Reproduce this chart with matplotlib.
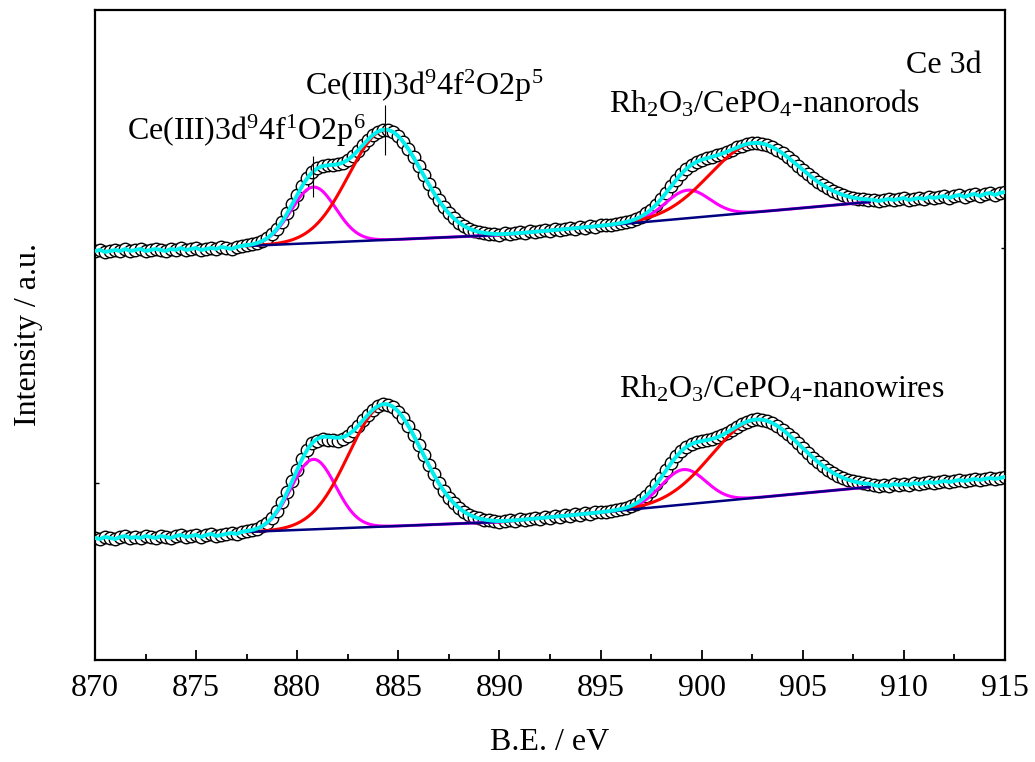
import numpy as np
import matplotlib
matplotlib.use("Agg")
import matplotlib.pyplot as plt

plt.rcParams['font.family'] = ['Liberation Serif', 'DejaVu Serif']
plt.rcParams['mathtext.fontset'] = 'custom'
plt.rcParams['mathtext.rm'] = 'Liberation Serif'
plt.rcParams['mathtext.it'] = 'Liberation Serif:italic'

# binding energy grid, 0.25 eV steps
energy = np.linspace(870, 915, 181)

# measured counts (arbitrary units, spectra already offset)
rods = [409, 410, 408, 409, 410, 409, 411, 409, 410, 411, 409, 410, 411, 410, 409,
        411, 410, 412, 410, 411, 412, 410, 411, 412, 411, 413, 412, 411, 413, 414,
        415, 416, 417, 419, 422, 426, 431, 438, 447, 456,
        465, 474, 482, 488, 492, 494, 495, 495, 496, 497,
        500, 504, 509, 515, 520, 525, 528, 530, 530, 528,
        524, 518, 511, 503, 494, 485, 476, 467, 460, 453,
        447, 442, 437, 434, 431, 429, 428, 427, 426, 426,
        425, 427, 426, 427, 428, 427, 429, 428, 429, 430, 429, 431, 430, 431, 432,
        431, 433, 432, 434, 433, 435,
        435, 435, 436, 437, 438, 439, 441, 443, 447, 450,
        455, 461, 467, 474, 480, 486, 491, 495, 498, 500,
        502, 503, 505, 506, 508, 510, 513, 514, 516, 517,
        517, 516, 515, 513, 510, 507, 503, 499, 494, 490,
        486, 482, 478, 475, 472, 469, 467, 465, 463, 462,
        461, 461, 460,
        460, 459, 460, 461, 460, 461, 462, 460, 461, 462, 461, 463, 462, 463, 464,
        462, 464, 465, 463, 465, 466, 464, 466, 467, 465, 467, 468]
wires = [122, 121, 123, 122, 121, 123, 124, 122, 123, 122, 124, 123, 122, 124, 123,
         122, 124, 125, 123, 124, 125, 123, 125, 126, 124, 125, 126, 127, 126, 128,
         129, 130, 131, 134, 137, 142, 149, 158, 168, 179,
         190, 201, 210, 217, 219, 221, 220, 220, 219, 221,
         224, 229, 234, 240, 245, 250, 254, 256, 255, 253,
         248, 242, 234, 225, 215, 205, 195, 186, 177, 169,
         162, 157, 152, 148, 145, 143, 142, 140, 140, 139,
         138, 139, 140, 139, 141, 140, 141, 142, 141, 143,
         142, 144, 143, 145, 144, 146, 145, 147, 146, 148,
         148, 148, 149, 150, 151, 152, 154, 156, 160, 164,
         169, 176, 182, 190, 197, 204, 209, 213, 216, 218,
         219, 220, 221, 223, 225, 227, 230, 233, 236, 238,
         240, 241, 240, 239, 237, 234, 230, 226, 222, 217,
         212, 207, 202, 198, 194, 190, 187, 184, 182, 180,
         179, 178, 177, 176, 175, 174, 175, 174, 176, 175, 176, 175, 177, 176, 177,
         178, 177, 178, 179, 178, 179, 180, 179, 180, 181, 180, 181, 182, 181, 182, 183]

# fitted peaks: centre (eV), height, sigma (3d5/2 pair, then 3d3/2 pair)
rods_centres = [880.8, 884.35, 899.3, 902.6]
rods_heights = [56, 110, 28, 69]
rods_sigmas = [1.1, 1.8, 1.1, 2.2]
wires_centres = [880.8, 884.35, 899.1, 902.7]
wires_heights = [70, 122, 35, 78]
wires_sigmas = [1.1, 1.8, 1.1, 2.2]

# linear background knots
bg_x = [877.5, 890.0, 908.3]
rods_bg = [414, 425, 458]
wires_bg = [128, 138, 173]


def gauss(x, c, h, s):
    return h * np.exp(-(x - c) ** 2 / (2 * s ** 2))


fig = plt.figure(figsize=(10.35, 7.62), dpi=100)
ax = fig.add_axes([0.0918, 0.1339, 0.8792, 0.853])

for data, c, h, s, bg in [(rods, rods_centres, rods_heights, rods_sigmas, rods_bg),
                          (wires, wires_centres, wires_heights, wires_sigmas, wires_bg)]:
    data = np.array(data, dtype=float)
    ax.plot(energy, data, 'o', ms=9, mfc='white', mec='black', mew=1.0, zorder=2)
    for i in range(4):
        lo, hi = (bg_x[0], bg_x[1]) if i < 2 else (bg_x[1], bg_x[2])
        xx = np.linspace(lo, hi, 300)
        yy = np.interp(xx, bg_x, bg) + gauss(xx, c[i], h[i], s[i])
        ax.plot(xx, yy, color='#FF00FF' if i % 2 == 0 else '#FF0000', lw=2.2, zorder=3)
    ax.plot(bg_x, bg, color='#000080', lw=1.8, zorder=4)
    xf = np.linspace(bg_x[0], bg_x[-1], 600)
    fit = np.interp(xf, bg_x, bg)
    for i in range(4):
        fit = fit + gauss(xf, c[i], h[i], s[i])
    ax.plot(xf, fit, color='#00F0F0', lw=2.8, zorder=5)
    left = energy <= bg_x[0]
    right = energy >= bg_x[-1]
    ax.plot(energy[left], data[left], color='#00F0F0', lw=2.8, zorder=5)
    ax.plot(energy[right], data[right], color='#00F0F0', lw=2.8, zorder=5)

# peak markers
ax.vlines([rods_centres[0]], 463, 504, color='black', lw=0.8, zorder=6)
ax.vlines([rods_centres[1]], 505, 555, color='black', lw=0.8, zorder=6)

fs = 23
ax.text(871.6, 520, r'Ce(III)3d$^\mathregular{9}$4f$^\mathregular{1}$O2p$^\mathregular{6}$', fontsize=fs, va='baseline')
ax.text(880.4, 565, r'Ce(III)3d$^\mathregular{9}$4f$^\mathregular{2}$O2p$^\mathregular{5}$', fontsize=fs, va='baseline')
ax.text(895.4, 547, r'Rh$_\mathregular{2}$O$_\mathregular{3}$/CePO$_\mathregular{4}$-nanorods', fontsize=fs, va='baseline')
ax.text(895.9, 262, r'Rh$_\mathregular{2}$O$_\mathregular{3}$/CePO$_\mathregular{4}$-nanowires', fontsize=fs, va='baseline')
ax.text(910.1, 587, 'Ce 3d', fontsize=fs, va='baseline')

ax.set_xlim(870, 915)
ax.set_ylim(0, 650)
ax.set_xticks(np.arange(870, 916, 5))
ax.set_xticks(np.arange(872.5, 915, 5), minor=True)
ax.set_yticks([177, 412])
ax.set_yticklabels([])
ax.tick_params(axis='x', which='major', direction='in', length=7, width=1.3, labelsize=fs, pad=10)
ax.tick_params(axis='x', which='minor', direction='in', length=4, width=1.3)
ax.tick_params(axis='y', direction='in', length=3, width=1, left=True, right=True)
for sp in ax.spines.values():
    sp.set_linewidth(1.6)
ax.set_xlabel('B.E. / eV', fontsize=fs, labelpad=18)
ax.set_ylabel('Intensity / a.u.', fontsize=fs, labelpad=34)

fig.savefig('out.png', dpi=100)
